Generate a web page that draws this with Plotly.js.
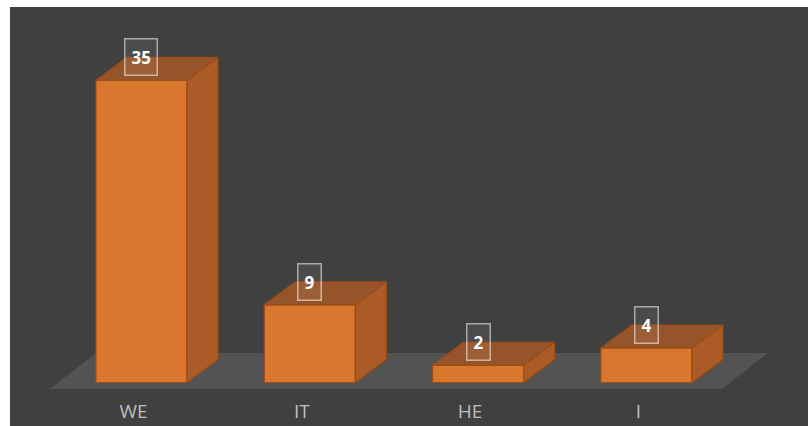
<!DOCTYPE html>
<html>
<head>
<meta charset="utf-8">
<script src="https://cdn.plot.ly/plotly-3.0.1.min.js"></script>
<style>
  html, body { margin: 0; padding: 0; background: #ffffff; width: 808px; height: 426px; overflow: hidden; }
  #chart { position: absolute; left: 10px; top: 7px; width: 798px; height: 419px; }
</style>
</head>
<body>
<div id="chart"></div>
<script>
// ---- data ----
const categories = ['WE', 'IT', 'HE', 'I'];
const values = [35, 9, 2, 4];

// ---- style / geometry constants ----
const idx = categories.map((c, i) => i);
const barW = 0.541;        // bar width in x units
const depthX = 0.184;      // 3D depth offset (x units)
const depthY = 2.665;      // 3D depth offset (y units)
const xRange = [-0.781, 3.960];
const yRange = [-1.448, 43.51];
const labelShift = 0.0475; // tick labels sit slightly left of bar centres

const cFront = '#d9772f';
const cSide = '#ab5c26';
const cTop = '#96542a';
const cEdge = '#9c4c16';

const traces = [];

// front faces (bars)
traces.push({
  type: 'bar',
  x: idx,
  y: values,
  width: barW,
  marker: { color: cFront, line: { color: cEdge, width: 1.2 } },
  hoverinfo: 'skip',
  showlegend: false
});

// side and top faces built from the values
values.forEach((v, i) => {
  const l = i - barW / 2, r = i + barW / 2;
  traces.push({
    type: 'scatter', mode: 'lines', fill: 'toself',
    x: [r, r + depthX, r + depthX, r, r],
    y: [0, depthY, v + depthY, v, 0],
    fillcolor: cSide, line: { color: cEdge, width: 1.2 },
    hoverinfo: 'skip', showlegend: false
  });
  traces.push({
    type: 'scatter', mode: 'lines', fill: 'toself',
    x: [l, r, r + depthX, l + depthX, l],
    y: [v, v, v + depthY, v + depthY, v],
    fillcolor: cTop, line: { color: cEdge, width: 1.2 },
    hoverinfo: 'skip', showlegend: false
  });
});

// invisible trace that carries the category axis labels
traces.push({
  type: 'scatter', mode: 'markers',
  x: idx, y: values.map(() => 0),
  xaxis: 'x2', yaxis: 'y',
  marker: { opacity: 0 }, hoverinfo: 'skip', showlegend: false
});

// floor
const n = categories.length;
const fl = -0.544, fr = (n - 1) + 0.449, fy0 = -0.753, fy1 = 3.42, fdx = 0.273;
const floorPath = `M ${fl},${fy0} L ${fr},${fy0} L ${fr + fdx},${fy1} L ${fl + fdx},${fy1} Z`;

// value labels
const annotations = values.map((v, i) => ({
  x: i, y: v, xref: 'x', yref: 'y',
  text: '<b>' + v + '</b>',
  showarrow: false,
  yshift: 23,
  font: { family: 'Open Sans, sans-serif', size: 17, color: '#ffffff' },
  bgcolor: 'rgba(255,255,255,0.06)',
  bordercolor: 'rgba(255,255,255,0.55)',
  borderwidth: 1.5,
  borderpad: 6
}));

const layout = {
  width: 798, height: 419,
  margin: { l: 0, r: 0, t: 0, b: 31, pad: 0 },
  paper_bgcolor: '#404040',
  plot_bgcolor: '#404040',
  showlegend: false,
  xaxis: {
    range: xRange, showgrid: false, zeroline: false, showline: false,
    showticklabels: false, ticks: '', fixedrange: true
  },
  xaxis2: {
    overlaying: 'x', anchor: 'y',
    range: [xRange[0] + labelShift, xRange[1] + labelShift],
    tickmode: 'array', tickvals: idx, ticktext: categories,
    showgrid: false, zeroline: false, showline: false, ticks: '',
    ticklabelstandoff: 3,
    tickfont: { family: 'Open Sans, sans-serif', size: 19, color: '#bfbfbf' },
    fixedrange: true
  },
  yaxis: {
    range: yRange, showgrid: false, zeroline: false, showline: false,
    showticklabels: false, ticks: '', fixedrange: true
  },
  shapes: [{
    type: 'path', xref: 'x', yref: 'y', layer: 'below',
    path: floorPath, fillcolor: '#535353', line: { width: 0 }
  }],
  annotations: annotations
};

Plotly.newPlot('chart', traces, layout, { displayModeBar: false, staticPlot: true });
</script>
</body>
</html>
